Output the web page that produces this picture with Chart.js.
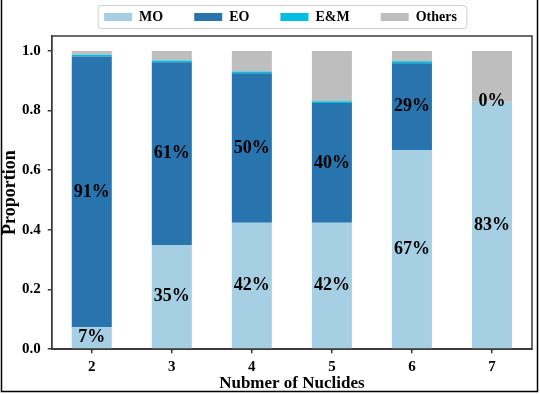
<!DOCTYPE html>
<html>
<head>
<meta charset="utf-8">
<script src="https://cdn.jsdelivr.net/npm/chart.js@4.4.0/dist/chart.umd.min.js"></script>
<style>
html, body { margin: 0; padding: 0; background: #fff; }
#wrap { position: relative; width: 540px; height: 394px; }
</style>
</head>
<body>
<div id="wrap"><canvas id="nuclidesChart"></canvas></div>
<script>
const categories = ['2', '3', '4', '5', '6', '7'];
const moValues = [0.074, 0.349, 0.424, 0.424, 0.668, 0.83];
const eoValues = [0.907, 0.613, 0.501, 0.401, 0.291, 0];
const emValues = [0.006, 0.006, 0.006, 0.006, 0.006, 0];
const otherValues = [0.013, 0.032, 0.069, 0.169, 0.035, 0.17];
const yTicks = [0, 0.2, 0.4, 0.6, 0.8, 1.0];

const serif = '"Liberation Serif", "Times New Roman", serif';
const axisColor = '#3a3a3a';

// percentages written in the middle of the MO and EO segments
const pctLabels = {
	id: 'pctLabels',
	afterDatasetsDraw(chart) {
		const ctx = chart.ctx;
		ctx.save();
		ctx.font = 'bold 18px ' + serif;
		ctx.fillStyle = '#000';
		ctx.textAlign = 'center';
		ctx.textBaseline = 'middle';
		[0, 1].forEach(di => {
			const meta = chart.getDatasetMeta(di);
			const vals = chart.data.datasets[di].data;
			meta.data.forEach((bar, i) => {
				ctx.fillText(Math.round(vals[i] * 100) + '%', bar.x, (bar.y + bar.base) / 2);
			});
		});
		ctx.restore();
	}
};

// legend box, full plot frame and the outer picture frame
const frames = {
	id: 'frames',
	afterLayout(chart) {
		const lg = chart.legend;
		lg.left = 29;
		lg.top = -21;
	},
	afterDraw(chart) {
		const ctx = chart.ctx;
		const a = chart.chartArea;
		ctx.save();
		ctx.strokeStyle = axisColor;
		ctx.lineWidth = 1.5;
		ctx.strokeRect(a.left, a.top, a.right - a.left, a.bottom - a.top);

		const hb = chart.legend.legendHitBoxes;
		if (hb && hb.length) {
			const last = hb[hb.length - 1];
			const x0 = hb[0].left - 6, x1 = last.left + last.width + 10;
			const y0 = hb[0].top - 4.5, y1 = hb[0].top + hb[0].height + 4.5;
			ctx.strokeStyle = '#d0d0d0';
			ctx.lineWidth = 1;
			ctx.beginPath();
			ctx.roundRect(x0, y0, x1 - x0, y1 - y0, 3);
			ctx.stroke();
		}

		ctx.strokeStyle = '#000';
		ctx.lineWidth = 1.5;
		ctx.strokeRect(1.5, -2, 536, 393.5);
		ctx.restore();
	}
};

const ctx = document.getElementById('nuclidesChart').getContext('2d');
new Chart(ctx, {
	type: 'bar',
	data: {
		labels: categories,
		datasets: [
			{ label: 'MO', data: moValues, backgroundColor: '#a6cfe4', borderWidth: 0 },
			{ label: 'EO', data: eoValues, backgroundColor: '#2874ae', borderWidth: 0 },
			{ label: 'E&M', data: emValues, backgroundColor: '#00bde2', borderWidth: 0 },
			{ label: 'Others', data: otherValues, backgroundColor: '#bebebe', borderWidth: 0 }
		]
	},
	options: {
		responsive: true,
		maintainAspectRatio: false,
		animation: false,
		datasets: {
			bar: { barPercentage: 0.5, categoryPercentage: 1.0 }
		},
		layout: { padding: { left: 6, right: 8, top: 0, bottom: 8 } },
		scales: {
			x: {
				stacked: true,
				grid: { display: true, drawOnChartArea: false, offset: false, tickLength: 4, color: axisColor, lineWidth: 1.5 },
				border: { display: true, color: axisColor, width: 1.5 },
				ticks: { color: '#000', font: { family: serif, size: 15, weight: 'bold' }, padding: 5 },
				title: {
					display: true,
					text: 'Nubmer of Nuclides',
					color: '#000',
					font: { family: serif, size: 17, weight: 'bold', lineHeight: 0.28 },
					padding: { top: 0, bottom: 0 }
				}
			},
			y: {
				stacked: true,
				min: 0,
				max: 1.05,
				afterBuildTicks(scale) {
					scale.ticks = yTicks.map(v => ({ value: v }));
				},
				grid: { display: true, drawOnChartArea: false, tickLength: 4, color: axisColor, lineWidth: 1.5 },
				border: { display: true, color: axisColor, width: 1.5 },
				ticks: {
					color: '#000',
					font: { family: serif, size: 15, weight: 'bold' },
					padding: 7,
					callback: v => v.toFixed(1)
				},
				title: {
					display: true,
					text: 'Proportion',
					color: '#000',
					font: { family: serif, size: 18, weight: 'bold', lineHeight: 0.5 },
					padding: { top: 0, bottom: 0 }
				}
			}
		},
		plugins: {
			legend: {
				position: 'top',
				maxHeight: 36,
				labels: {
					color: '#000',
					font: { family: serif, size: 14, weight: 'bold' },
					boxWidth: 28,
					boxHeight: 8,
					padding: 31
				}
			},
			tooltip: { enabled: false }
		}
	},
	plugins: [pctLabels, frames]
});
</script>
</body>
</html>
